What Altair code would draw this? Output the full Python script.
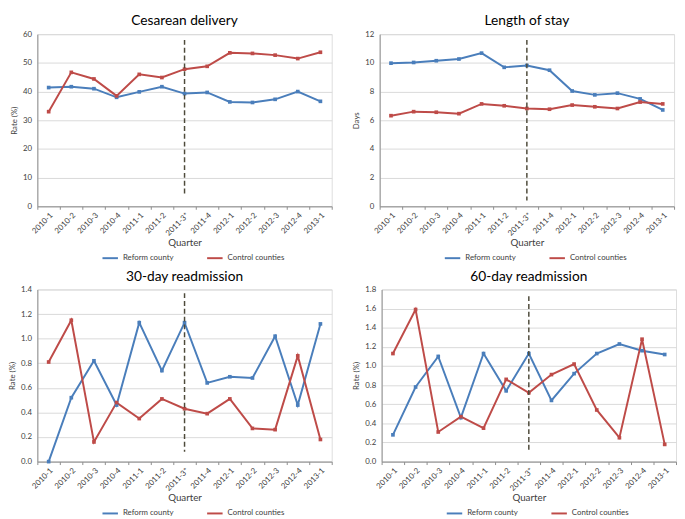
import altair as alt
import pandas as pd

quarters = ["2010-1", "2010-2", "2010-3", "2010-4", "2011-1", "2011-2", "2011-3*",
            "2011-4", "2012-1", "2012-2", "2012-3", "2012-4", "2013-1"]
series_names = ["Reform county", "Control counties"]

ces_reform = [41.4, 41.7, 41.0, 38.0, 39.9, 41.7, 39.3, 39.7, 36.4, 36.2, 37.3, 40.0, 36.6]
ces_control = [33.0, 46.7, 44.4, 38.5, 46.0, 44.9, 47.8, 48.8, 53.5, 53.3, 52.7, 51.5, 53.7]

los_reform = [9.98, 10.03, 10.15, 10.27, 10.68, 9.69, 9.82, 9.49, 8.04, 7.77, 7.89, 7.49, 6.72]
los_control = [6.32, 6.60, 6.56, 6.46, 7.14, 7.01, 6.82, 6.77, 7.06, 6.94, 6.82, 7.27, 7.14]

r30_reform = [0.00, 0.52, 0.82, 0.46, 1.13, 0.74, 1.13, 0.64, 0.69, 0.68, 1.02, 0.46, 1.12]
r30_control = [0.81, 1.15, 0.16, 0.48, 0.35, 0.51, 0.43, 0.39, 0.51, 0.27, 0.26, 0.86, 0.18]

r60_reform = [0.28, 0.78, 1.10, 0.46, 1.13, 0.74, 1.13, 0.64, 0.92, 1.13, 1.23, 1.16, 1.12]
r60_control = [1.13, 1.59, 0.31, 0.47, 0.35, 0.86, 0.72, 0.91, 1.02, 0.54, 0.25, 1.28, 0.18]

FONT = "Lato"
BLUE = "#4A7EBB"
RED = "#BE4B48"
W, H = 301, 176


def long_df(reform, control):
    rows = []
    for i, q in enumerate(quarters):
        rows.append({"quarter": q, "series": series_names[0], "value": reform[i], "order": i})
        rows.append({"quarter": q, "series": series_names[1], "value": control[i], "order": i})
    return pd.DataFrame(rows)


def panel(title, reform, control, ytitle, ymax, ystep, fmt, dash_top, dash_bottom):
    df = long_df(reform, control)
    ticks = [round(k * ystep, 4) for k in range(int(round(ymax / ystep)) + 1)]
    xscale = alt.Scale(type="band", paddingInner=0, paddingOuter=0, domain=quarters)
    xaxis = alt.Axis(title="Quarter", labelAngle=-45, labelAlign="right",
                     labelBaseline="top", tickBand="extent", grid=False,
                     domainColor="#8c8c8c", tickColor="#8c8c8c", tickSize=3,
                     labelFontSize=8, labelColor="#404040", titleFontSize=10,
                     titleFontWeight="normal", titleColor="#404040",
                     labelFont=FONT, titleFont=FONT, titlePadding=0, labelPadding=2)
    yscale = alt.Scale(domain=[0, ymax], nice=False, zero=True)
    yaxis = alt.Axis(title=ytitle, values=ticks, format=fmt, grid=True, labelOverlap=False,
                     gridColor="#d9d9d9", domainColor="#8c8c8c", ticks=False,
                     labelFontSize=8, labelColor="#404040", titleFontSize=8,
                     titleFontWeight="normal", titleColor="#404040",
                     labelFont=FONT, titleFont=FONT, labelPadding=6, titlePadding=4)
    x = alt.X("quarter:N", sort=quarters, scale=xscale, axis=xaxis)
    y = alt.Y("value:Q", scale=yscale, axis=yaxis)
    color = alt.Color("series:N", sort=series_names,
                      scale=alt.Scale(domain=series_names, range=[BLUE, RED]),
                      legend=alt.Legend(title=None, orient="none", direction="horizontal",
                                        legendX=W / 2 - 85, legendY=H + 44,
                                        symbolType="stroke", symbolStrokeWidth=2,
                                        symbolSize=250, labelFontSize=8, labelFont=FONT,
                                        labelColor="#404040", columnPadding=30))
    lines = alt.Chart(df).mark_line(strokeWidth=2,
                                    point=alt.OverlayMarkDef(filled=True, size=14, shape="square")).encode(
        x=x, y=y, color=color, order="order:Q", detail="series:N")
    dash = alt.Chart(df).transform_filter(
        "datum.quarter == '2011-3*' && datum.series == 'Reform county'"
    ).mark_rule(strokeDash=[5, 3], strokeWidth=1.5, color="#4d4a3a").encode(
        x=x,
        y=alt.YDatum(dash_top, scale=yscale, axis=yaxis),
        y2=alt.Y2Datum(dash_bottom))
    return alt.layer(lines, dash).properties(
        width=W, height=H,
        title=alt.TitleParams(title, fontSize=14, font=FONT, fontWeight="normal",
                              color="#000000", offset=2))


p1 = panel("Cesarean delivery", ces_reform, ces_control, "Rate (%)", 60, 10, "d", 58, 4)
p2 = panel("Length of stay", los_reform, los_control, "Days", 12, 2, "d", 11.6, 0.4)
p3 = panel("30-day readmission", r30_reform, r30_control, "Rate (%)", 1.4, 0.2, ".1f", 1.37, 0.08)
p4 = panel("60-day readmission", r60_reform, r60_control, "Rate (%)", 1.8, 0.2, ".1f", 1.73, 0.1)

chart = alt.vconcat(
    alt.hconcat(p1, p2, spacing=20).resolve_scale(color="independent"),
    alt.hconcat(p3, p4, spacing=20).resolve_scale(color="independent"),
    spacing=6
).resolve_scale(color="independent").configure_view(stroke=None).configure(
    background="white", padding=0)

chart.save("out.html", embed_options={"renderer": "svg", "actions": False})
